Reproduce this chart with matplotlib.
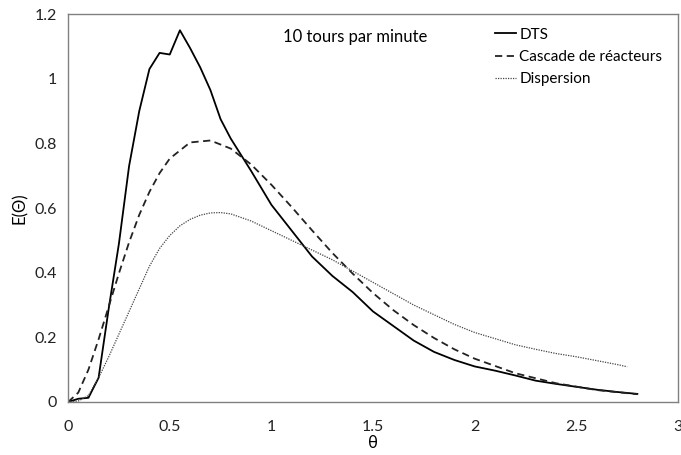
import matplotlib
matplotlib.use("Agg")
import matplotlib.pyplot as plt
from matplotlib.ticker import FormatStrFormatter

plt.rcParams['font.family'] = ['Lato', 'DejaVu Sans']

# DTS (measured)
dts_x = [0, 0.05, 0.1, 0.15, 0.2, 0.25, 0.3, 0.35, 0.4, 0.45, 0.5, 0.55, 0.6, 0.65,
         0.7, 0.75, 0.8, 0.9, 1.0, 1.1, 1.2, 1.3, 1.4, 1.5, 1.6, 1.7, 1.8, 1.9,
         2.0, 2.1, 2.2, 2.3, 2.4, 2.5, 2.6, 2.7, 2.8]
dts_y = [0, 0.01, 0.013, 0.075, 0.29, 0.49, 0.73, 0.9, 1.03, 1.08, 1.075, 1.15, 1.095, 1.035,
         0.965, 0.875, 0.815, 0.715, 0.61, 0.53, 0.45, 0.39, 0.34, 0.28, 0.235, 0.19, 0.155, 0.13,
         0.11, 0.097, 0.082, 0.066, 0.056, 0.047, 0.038, 0.031, 0.025]

# cascade de reacteurs
cas_x = [0, 0.05, 0.1, 0.15, 0.2, 0.25, 0.3, 0.35, 0.4, 0.45, 0.5, 0.6, 0.7, 0.8, 0.9,
         1.0, 1.1, 1.2, 1.3, 1.4, 1.5, 1.6, 1.7, 1.8, 1.9, 2.0, 2.2, 2.4, 2.6, 2.8]
cas_y = [0, 0.029, 0.1, 0.194, 0.296, 0.398, 0.494, 0.579, 0.65, 0.708, 0.753, 0.803, 0.809,
         0.784, 0.735, 0.672, 0.603, 0.531, 0.461, 0.397, 0.337, 0.284, 0.238, 0.198, 0.163,
         0.134, 0.089, 0.058, 0.037, 0.024]

# dispersion
dis_x = [0, 0.05, 0.1, 0.15, 0.2, 0.25, 0.3, 0.35, 0.4, 0.45, 0.5, 0.55, 0.6, 0.65, 0.7,
         0.75, 0.8, 0.9, 1.0, 1.1, 1.2, 1.3, 1.4, 1.5, 1.6, 1.7, 1.8, 1.9, 2.0, 2.1, 2.2,
         2.3, 2.4, 2.5, 2.6, 2.7, 2.75]
dis_y = [0, 0.003, 0.02, 0.075, 0.14, 0.21, 0.28, 0.35, 0.42, 0.475, 0.515, 0.545, 0.565,
         0.578, 0.585, 0.586, 0.582, 0.56, 0.53, 0.5, 0.47, 0.44, 0.405, 0.37, 0.335, 0.3,
         0.27, 0.24, 0.215, 0.196, 0.177, 0.163, 0.15, 0.14, 0.128, 0.116, 0.109]

fig = plt.figure(figsize=(6.81, 4.55), dpi=100)
ax = fig.add_axes([0.1, 0.1165, 0.8956, 0.8525])

ax.plot(dts_x, dts_y, color='black', lw=1.3, label='DTS')
ax.plot(cas_x, cas_y, color='#222222', lw=1.3, ls=(0, (4, 2.5)), label='Cascade de réacteurs')
ax.plot(dis_x, dis_y, color='#444444', lw=0.9, ls=(0, (1, 1)), label='Dispersion')

ax.set_xlim(0, 3)
ax.set_ylim(0, 1.2)
ax.set_xticks([0, 0.5, 1, 1.5, 2, 2.5, 3])
ax.set_yticks([0, 0.2, 0.4, 0.6, 0.8, 1, 1.2])
ax.xaxis.set_major_formatter(FormatStrFormatter('%g'))
ax.yaxis.set_major_formatter(FormatStrFormatter('%g'))
ax.tick_params(axis='both', length=0, labelsize=11.5, colors='#222222')
ax.tick_params(axis='x', pad=13)
ax.tick_params(axis='y', pad=8)
for s in ax.spines.values():
    s.set_color('#808080')
    s.set_linewidth(1)

ax.set_xlabel('θ', fontsize=12, labelpad=1)
ax.set_ylabel('E(Θ)', fontsize=12, labelpad=5)

ax.text(0.352, 0.94, '10 tours par minute', transform=ax.transAxes,
        fontsize=12, va='center', ha='left')

ax.legend(loc='upper left', bbox_to_anchor=(0.70, 0.965), frameon=False,
          fontsize=11, handlelength=1.4, handletextpad=0.2, labelspacing=0.55,
          borderaxespad=0, borderpad=0)

fig.savefig('out.png', dpi=100)
